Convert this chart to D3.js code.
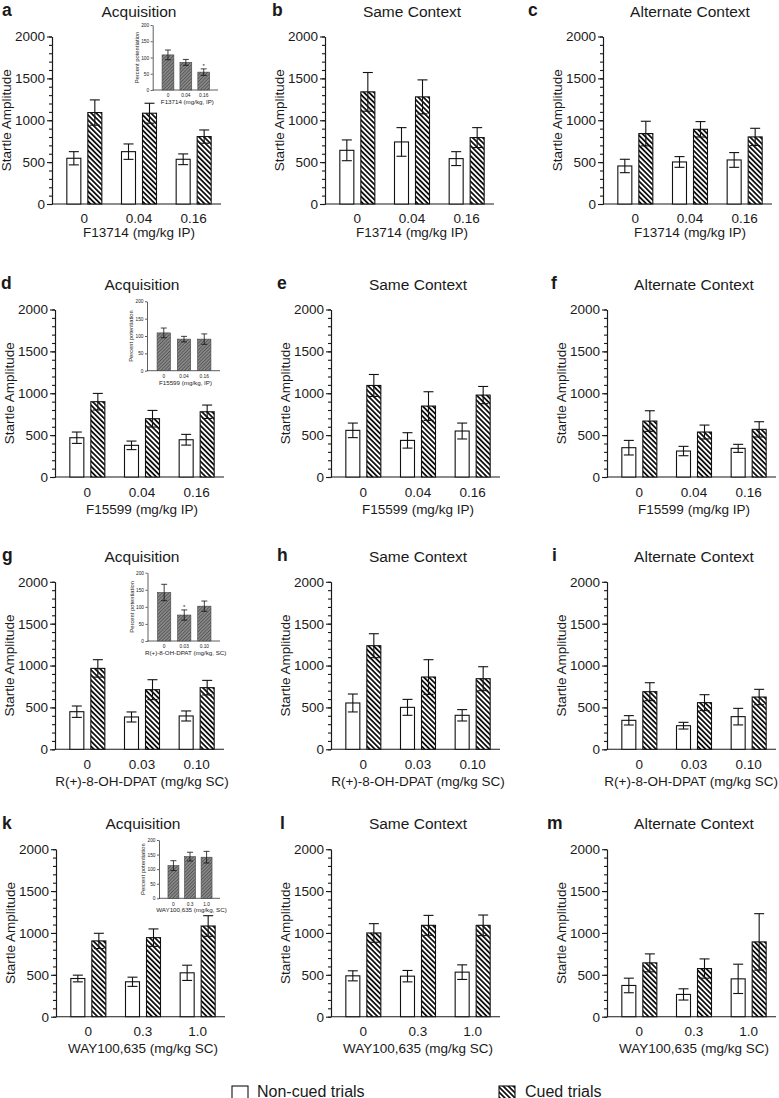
<!DOCTYPE html>
<html><head><meta charset="utf-8">
<script src="https://cdn.jsdelivr.net/npm/d3@7"></script>
<style>
body{margin:0;background:#fff}
svg{display:block}
text{font-family:"Liberation Sans",Arial,Helvetica,sans-serif;fill:#1a1a1a}
</style>
</head><body>
<svg id="chart" width="779" height="1098"></svg>
<script>
// ---------------- DATA ----------------
const dosesF13714 = ["0", "0.04", "0.16"];
const dosesF15599 = ["0", "0.04", "0.16"];
const dosesDPAT   = ["0", "0.03", "0.10"];
const dosesWAY    = ["0", "0.3", "1.0"];

const xLabels = ["F13714 (mg/kg IP)", "F15599 (mg/kg IP)", "R(+)-8-OH-DPAT (mg/kg SC)", "WAY100,635 (mg/kg SC)"];
const insetXLabels = ["F13714 (mg/kg, IP)", "F15599 (mg/kg, IP)", "R(+)-8-OH-DPAT (mg/kg, SC)", "WAY100,635 (mg/kg, SC)"];
const panelTitles = ["Acquisition", "Same Context", "Alternate Context"];
const panelLetters = [["a","b","c"],["d","e","f"],["g","h","i"],["k","l","m"]];
const seriesNames = ["Non-cued trials", "Cued trials"];

const yTicks = [0, 500, 1000, 1500, 2000];
const insetYTicks = [0, 50, 100, 150, 200];

// mean startle amplitude, non-cued and cued, with SEM
const nonCued_a = [546, 625, 534];   const nonCuedSem_a = [79, 92, 64];
const cued_a    = [1092, 1084, 805]; const cuedSem_a    = [151, 119, 79];
const nonCued_b = [641, 741, 542];   const nonCuedSem_b = [124, 171, 83];
const cued_b    = [1339, 1279, 793]; const cuedSem_b    = [231, 203, 119];
const nonCued_c = [454, 502, 526];   const nonCuedSem_c = [80, 64, 88];
const cued_c    = [841, 892, 801];   const cuedSem_c    = [147, 92, 103];

const nonCued_d = [469, 378, 445];   const nonCuedSem_d = [68, 51, 64];
const cued_d    = [899, 696, 779];   const cuedSem_d    = [99, 99, 80];
const nonCued_e = [557, 437, 549];   const nonCuedSem_e = [87, 92, 95];
const cued_e    = [1093, 847, 978];  const cuedSem_e    = [131, 171, 103];
const nonCued_f = [350, 310, 342];   const nonCuedSem_f = [87, 56, 48];
const cued_f    = [668, 537, 569];   const cuedSem_f    = [123, 83, 91];

const nonCued_g = [449, 386, 398];   const nonCuedSem_g = [68, 60, 60];
const cued_g    = [966, 712, 736];   const cuedSem_g    = [104, 119, 87];
const nonCued_h = [553, 501, 406];   const nonCuedSem_h = [107, 95, 68];
const cued_h    = [1237, 863, 843];  const cuedSem_h    = [143, 207, 143];
const nonCued_i = [346, 282, 390];   const nonCuedSem_i = [56, 40, 99];
const cued_i    = [688, 557, 624];   const cuedSem_i    = [107, 95, 92];

const nonCued_k = [456, 417, 524];   const nonCuedSem_k = [40, 55, 91];
const cued_k    = [905, 944, 1083];  const cuedSem_k    = [91, 104, 123];
const nonCued_l = [488, 484, 532];   const nonCuedSem_l = [60, 68, 87];
const cued_l    = [1000, 1091, 1091];const cuedSem_l    = [111, 119, 123];
const nonCued_m = [373, 266, 452];   const nonCuedSem_m = [87, 67, 175];
const cued_m    = [643, 575, 893];   const cuedSem_m    = [107, 115, 337];

// inset: percent potentiation
const inset_a = [108, 85, 55];   const insetSem_a = [15, 9, 10];  const insetSig_a = [0, 0, 1];
const inset_d = [109, 91, 91];   const insetSem_d = [14, 8, 15];  const insetSig_d = [0, 0, 0];
const inset_g = [142, 76, 102];  const insetSem_g = [24, 15, 15]; const insetSig_g = [0, 1, 0];
const inset_k = [112, 143, 141]; const insetSem_k = [17, 15, 20]; const insetSig_k = [0, 0, 0];

// ---------------- LAYOUT ----------------
const rowDoses = [dosesF13714, dosesF15599, dosesDPAT, dosesWAY];
const rowData = [
  [[nonCued_a, nonCuedSem_a, cued_a, cuedSem_a],[nonCued_b, nonCuedSem_b, cued_b, cuedSem_b],[nonCued_c, nonCuedSem_c, cued_c, cuedSem_c]],
  [[nonCued_d, nonCuedSem_d, cued_d, cuedSem_d],[nonCued_e, nonCuedSem_e, cued_e, cuedSem_e],[nonCued_f, nonCuedSem_f, cued_f, cuedSem_f]],
  [[nonCued_g, nonCuedSem_g, cued_g, cuedSem_g],[nonCued_h, nonCuedSem_h, cued_h, cuedSem_h],[nonCued_i, nonCuedSem_i, cued_i, cuedSem_i]],
  [[nonCued_k, nonCuedSem_k, cued_k, cuedSem_k],[nonCued_l, nonCuedSem_l, cued_l, cuedSem_l],[nonCued_m, nonCuedSem_m, cued_m, cuedSem_m]]
];
const insetData = [[inset_a, insetSem_a, insetSig_a],[inset_d, insetSem_d, insetSig_d],[inset_g, insetSem_g, insetSig_g],[inset_k, insetSem_k, insetSig_k]];

const rows = [
  {y0: 204,   xs: [52, 325, 603], lx: [2, 272, 528], tickDy: 19.5, labDy: 33},
  {y0: 477,   xs: [55, 331, 607], lx: [1, 277, 551], tickDy: 20.5, labDy: 37},
  {y0: 749.3, xs: [55, 331, 607], lx: [2, 277, 552], tickDy: 20.5, labDy: 37},
  {y0: 1016.7,xs: [56, 331, 607], lx: [2, 280, 547], tickDy: 20, labDy: 36.5}
];
const insets = [
  {ax: 152.7, top: 25,    base: 90,    end: 218},
  {ax: 147,   top: 301.3, base: 370.7, end: 220},
  {ax: 147.5, top: 572.7, base: 641,   end: 220},
  {ax: 159,   top: 840,   base: 898.3, end: 220}
];
const H = 167.5, AXW = 169, WIDTH = 779;
const INK = "#1a1a1a";

const svg = d3.select("#chart");
const defs = svg.append("defs");
// main hatch: "\\\\" black lines on white
const hp = defs.append("pattern").attr("id","hatch").attr("patternUnits","userSpaceOnUse")
  .attr("width",3.6).attr("height",3.6).attr("patternTransform","rotate(45)");
hp.append("rect").attr("width",3.6).attr("height",3.6).attr("fill","#fff");
hp.append("line").attr("x1",0).attr("x2",3.6).attr("y1",1.8).attr("y2",1.8).attr("stroke","#111").attr("stroke-width",1.8);
// inset hatch: "////" dark lines on grey
const ip = defs.append("pattern").attr("id","ihatch").attr("patternUnits","userSpaceOnUse")
  .attr("width",2.4).attr("height",2.4).attr("patternTransform","rotate(-45)");
ip.append("rect").attr("width",2.4).attr("height",2.4).attr("fill","#8a8a8a");
ip.append("line").attr("x1",0).attr("x2",2.4).attr("y1",1.2).attr("y2",1.2).attr("stroke","#555").attr("stroke-width",0.9);

function styleAxis(sel, w){
  sel.selectAll("path.domain").attr("stroke",INK).attr("stroke-width",w);
  sel.selectAll(".tick line").attr("stroke",INK).attr("stroke-width",w);
}

function drawPanel(r, c){
  const R = rows[r], x0 = R.xs[c], y0 = R.y0;
  const cats = rowDoses[r];
  const [nc, ncS, cu, cuS] = rowData[r][c];
  const g = svg.append("g");
  const y = d3.scaleLinear().domain([0, 2000]).range([y0, y0 - H]);
  const x = d3.scaleBand().domain(cats).range([x0 + 5, x0 + AXW]);
  const xs = d3.scaleBand().domain(["nc","cu"]).range([x.bandwidth()/2 - 17.5, x.bandwidth()/2 + 17.5]).paddingInner(1/3);

  // minor ticks
  const minor = g.append("g").attr("transform",`translate(${x0},0)`)
    .call(d3.axisLeft(y).tickValues(d3.range(0, 2001, 100)).tickSize(3).tickSizeOuter(0).tickFormat(""));
  styleAxis(minor, 1.1);
  const ya = g.append("g").attr("transform",`translate(${x0},0)`)
    .call(d3.axisLeft(y).tickValues(yTicks).tickSize(5).tickSizeOuter(0).tickPadding(2).tickFormat(d3.format("d")));
  styleAxis(ya, 1.1);
  ya.selectAll("text").attr("font-size",13.5).attr("fill",INK).attr("font-family",null);

  const xa = g.append("g").attr("transform",`translate(0,${y0})`)
    .call(d3.axisBottom(x).tickSize(0).tickPadding(R.tickDy - 10));
  xa.select("path.domain").remove();
  xa.selectAll("text").attr("font-size",13.5).attr("fill",INK).attr("font-family",null);
  g.append("line").attr("x1",x0).attr("x2",x0 + AXW).attr("y1",y0).attr("y2",y0).attr("stroke",INK).attr("stroke-width",1.1);

  const rowsD = cats.map((d,i)=>({cat:d, vals:[{k:"nc",v:nc[i],s:ncS[i]},{k:"cu",v:cu[i],s:cuS[i]}]}));
  const grp = g.selectAll("g.cat").data(rowsD).join("g").attr("transform",d=>`translate(${x(d.cat)},0)`);
  grp.selectAll("rect").data(d=>d.vals).join("rect")
    .attr("x",d=>xs(d.k)).attr("width",xs.bandwidth())
    .attr("y",d=>y(d.v)).attr("height",d=>y0 - y(d.v))
    .attr("fill",d=>d.k==="nc" ? "#fff" : "url(#hatch)")
    .attr("stroke","#111").attr("stroke-width",1.1);
  const eb = grp.selectAll("g.eb").data(d=>d.vals).join("g").attr("class","eb")
    .attr("transform",d=>`translate(${xs(d.k) + xs.bandwidth()/2},0)`);
  eb.append("line").attr("y1",d=>y(d.v - d.s)).attr("y2",d=>y(d.v + d.s)).attr("stroke","#111").attr("stroke-width",1.1);
  eb.append("line").attr("x1",-5).attr("x2",5).attr("y1",d=>y(d.v + d.s)).attr("y2",d=>y(d.v + d.s)).attr("stroke","#111").attr("stroke-width",1.1);
  eb.append("line").attr("x1",-5).attr("x2",5).attr("y1",d=>y(d.v - d.s)).attr("y2",d=>y(d.v - d.s)).attr("stroke","#111").attr("stroke-width",1.1);

  // labels
  g.append("text").attr("x",x0 + 87).attr("y",y0 - 187.5).attr("text-anchor","middle").attr("font-size",15.5).text(panelTitles[c]);
  g.append("text").attr("x",R.lx[c]).attr("y",y0 - 188).attr("font-size",17.5).attr("font-weight","bold").text(panelLetters[r][c]);
  g.append("text").attr("transform",`translate(${x0 - 41},${y0 - H/2}) rotate(-90)`).attr("text-anchor","middle").attr("font-size",13.5).text("Startle Amplitude");
  const xl = g.append("text").attr("x",x0 + 87).attr("y",y0 + R.labDy).attr("text-anchor","middle").attr("font-size",13.5).text(xLabels[r]);
  const w = xl.node().getComputedTextLength();
  if (x0 + 87 + w/2 > WIDTH - 1) xl.attr("x", WIDTH - 1 - w/2);
}

function drawInset(r){
  const I = insets[r];
  const [vals, sems, sig] = insetData[r];
  const cats = rowDoses[r];
  const g = svg.append("g");
  const y = d3.scaleLinear().domain([0, 200]).range([I.base, I.top]);
  const x = d3.scaleBand().domain(cats).range([I.ax + 4, I.end - 3]).paddingInner(0.34).paddingOuter(0.3);
  const ya = g.append("g").attr("transform",`translate(${I.ax},0)`)
    .call(d3.axisLeft(y).tickValues(insetYTicks).tickSize(2).tickSizeOuter(0).tickPadding(1.5));
  styleAxis(ya, 0.7);
  ya.selectAll("text").attr("font-size",4.8).attr("fill",INK).attr("font-family",null);
  const xa = g.append("g").attr("transform",`translate(0,${I.base})`)
    .call(d3.axisBottom(x).tickSize(0).tickPadding(4));
  xa.select("path.domain").remove();
  xa.selectAll("text").attr("font-size",4.8).attr("fill",INK).attr("font-family",null);
  g.append("line").attr("x1",I.ax).attr("x2",I.end).attr("y1",I.base).attr("y2",I.base).attr("stroke",INK).attr("stroke-width",0.7);

  const d = cats.map((c,i)=>({c, v:vals[i], s:sems[i], sig:sig[i]}));
  g.selectAll("rect.ib").data(d).join("rect").attr("class","ib")
    .attr("x",e=>x(e.c)).attr("width",x.bandwidth())
    .attr("y",e=>y(e.v)).attr("height",e=>I.base - y(e.v))
    .attr("fill","url(#ihatch)").attr("stroke","#444").attr("stroke-width",0.6);
  const eb = g.selectAll("g.ieb").data(d).join("g").attr("class","ieb")
    .attr("transform",e=>`translate(${x(e.c) + x.bandwidth()/2},0)`);
  eb.append("line").attr("y1",e=>y(e.v - e.s)).attr("y2",e=>y(e.v + e.s)).attr("stroke","#111").attr("stroke-width",0.8);
  eb.append("line").attr("x1",-3).attr("x2",3).attr("y1",e=>y(e.v + e.s)).attr("y2",e=>y(e.v + e.s)).attr("stroke","#111").attr("stroke-width",0.8);
  eb.append("line").attr("x1",-3).attr("x2",3).attr("y1",e=>y(e.v - e.s)).attr("y2",e=>y(e.v - e.s)).attr("stroke","#111").attr("stroke-width",0.8);
  eb.filter(e=>e.sig).append("text").attr("y",e=>y(e.v + e.s) - 1).attr("text-anchor","middle").attr("font-size",6).text("*");

  g.append("text").attr("transform",`translate(${I.ax - 14},${(I.base + I.top)/2}) rotate(-90)`).attr("text-anchor","middle").attr("font-size",5.8).text("Percent potentiation");
  g.append("text").attr("x",(I.ax + I.end)/2 + 2).attr("y",I.base + 14).attr("text-anchor","middle").attr("font-size",6.2).text(insetXLabels[r]);
}

for (let r = 0; r < 4; r++){
  for (let c = 0; c < 3; c++) drawPanel(r, c);
  drawInset(r);
}

// legend
const lg = svg.append("g");
const legendX = [232, 499];
const legendTextX = [257, 525];
seriesNames.forEach((s,i)=>{
  lg.append("rect").attr("x",legendX[i]).attr("y",1086).attr("width",16).attr("height",15)
    .attr("fill", i===0 ? "#fff" : "url(#hatch)").attr("stroke","#111").attr("stroke-width",1.1);
  lg.append("text").attr("x",legendTextX[i]).attr("y",1096.5).attr("font-size",16).text(s);
});
</script>
</body></html>
